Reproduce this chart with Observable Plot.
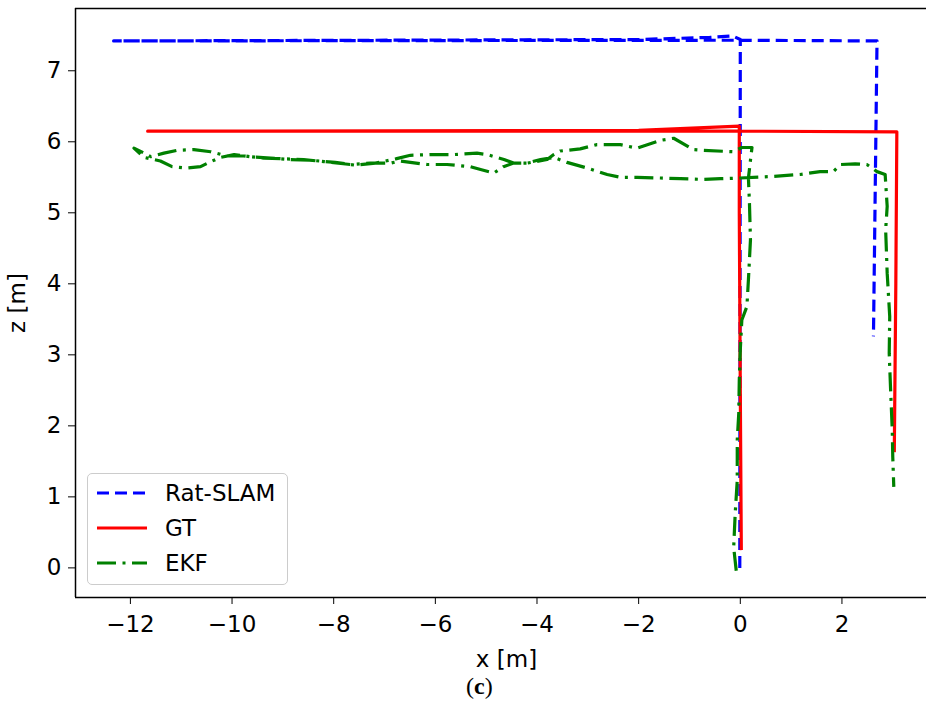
<!DOCTYPE html>
<html><head><meta charset="utf-8">
<script src="https://cdn.jsdelivr.net/npm/d3@7"></script>
<script src="https://cdn.jsdelivr.net/npm/@observablehq/plot@0.6"></script>
<style>
html,body{margin:0;padding:0;background:#fff;overflow:hidden;}
#wrap{position:relative;width:926px;height:704px;overflow:hidden;background:#fff;}
#legend{position:absolute;left:87px;top:473px;width:201px;height:112px;box-sizing:border-box;border:1.5px solid #cccccc;border-radius:5px;background:rgba(255,255,255,0.8);}
#legend svg{position:absolute;left:-1.5px;top:-1.5px;}
#caption{position:absolute;left:466px;width:60px;top:675px;text-align:left;font-family:"Liberation Serif",serif;font-size:24px;line-height:22px;color:#000;white-space:nowrap;}
</style></head>
<body><div id="wrap"><div id="chart"></div><div id="legend"></div><div id="caption">(<b>c</b>)</div></div>
<script>
// ---- data ----
const seriesNames = ["Rat-SLAM", "GT", "EKF"];
const seriesColors = ["#0000ff", "#ff0000", "#008000"];
const seriesDash = ["12,6", "none", "19,6.5,3,6.5"];

const xTicks = [-12, -10, -8, -6, -4, -2, 0, 2];
const yTicks = [0, 1, 2, 3, 4, 5, 6, 7];
const xDomain = [-13.08, 3.88];
const yDomain = [-0.417, 7.877];

const ratX = [-0.01, 0.0, -0.15, -0.6, -2.0, -12.33, -0.2, 0.0, 2.69, 2.62];
const ratZ = [0.0, 7.44, 7.49, 7.47, 7.44, 7.42, 7.43, 7.43, 7.42, 3.26];

const gtX = [0.02, 0.0, -0.02, -0.02, -2.0, -11.66, 0.0, 3.08, 3.06, 3.03];
const gtZ = [0.25, 2.5, 5.0, 6.22, 6.16, 6.15, 6.15, 6.14, 4.0, 1.63];

const ekfX = [-0.08,-0.13,-0.10,-0.06,-0.06,-0.03,-0.02,0.0,0.03,0.13,0.16,0.2,0.18,0.16,0.2,0.23,0.03,-0.14,-0.73,-0.92,-1.31,-1.57,-2.03,-2.36,-2.82,-3.15,-3.54,-3.67,-3.80,-4.19,-4.46,-4.66,-4.85,-5.11,-5.31,-5.77,-6.16,-6.69,-6.88,-7.28,-7.67,-8.19,-8.59,-8.98,-9.37,-9.77,-10.10,-10.42,-10.75,-11.08,-11.34,-11.60,-11.73,-11.93,-11.73,-11.41,-11.18,-10.91,-10.62,-10.42,-10.23,-9.96,-9.64,-9.24,-8.85,-8.46,-7.97,-7.57,-7.18,-6.78,-6.49,-6.10,-5.64,-5.18,-4.98,-4.65,-4.46,-4.20,-3.93,-3.67,-3.41,-3.01,-2.62,-2.36,-2.03,-1.57,-1.18,-0.73,-0.39,0.0,0.59,1.18,1.57,1.83,1.97,2.26,2.49,2.69,2.85,2.89,2.86,2.89,2.94,2.93,2.96,2.99,3.0,3.02];
const ekfZ = [-0.04,0.29,0.77,1.23,1.80,2.18,2.65,3.07,3.49,3.68,4.06,4.62,5.14,5.49,5.74,5.92,5.92,5.86,5.88,5.89,6.05,6.02,5.91,5.96,5.96,5.90,5.87,5.82,5.75,5.70,5.70,5.65,5.56,5.61,5.65,5.68,5.68,5.73,5.70,5.70,5.68,5.72,5.75,5.76,5.77,5.80,5.80,5.86,5.89,5.88,5.84,5.79,5.84,5.91,5.78,5.73,5.65,5.63,5.65,5.72,5.78,5.82,5.79,5.77,5.75,5.74,5.71,5.67,5.70,5.76,5.81,5.82,5.82,5.84,5.82,5.75,5.70,5.70,5.75,5.78,5.71,5.63,5.54,5.50,5.50,5.49,5.48,5.47,5.48,5.49,5.51,5.54,5.58,5.58,5.68,5.69,5.68,5.58,5.54,5.09,4.76,4.15,3.54,3.02,2.46,1.94,1.56,1.14];

// ---- build ----
const toRows = (xs, zs) => xs.map((x, i) => ({x, z: zs[i]}));
const seriesData = [toRows(ratX, ratZ), toRows(gtX, gtZ), toRows(ekfX, ekfZ)];
const fmt = d => (d < 0 ? "\u2212" + Math.abs(d) : String(d));
const font = "DejaVu Sans";

const lineMarks = seriesData.map((rows, i) =>
  Plot.line(rows, {
    x: "x", y: "z",
    stroke: seriesColors[i],
    strokeWidth: 3.2,
    strokeDasharray: seriesDash[i] === "none" ? undefined : seriesDash[i],
    strokeLinejoin: "round",
    strokeLinecap: "butt"
  })
);

const chart = Plot.plot({
  width: 926,
  height: 680,
  marginLeft: 75,
  marginRight: -11,
  marginTop: 8,
  marginBottom: 83,
  style: {fontFamily: font, fontSize: "23px", color: "#000", background: "transparent", overflow: "hidden"},
  x: {domain: xDomain},
  y: {domain: yDomain},
  marks: [
    ...lineMarks,
    Plot.ruleX([xDomain[0]], {stroke: "#000", strokeWidth: 1.5}),
    Plot.ruleY(yDomain, {stroke: "#000", strokeWidth: 1.5}),
    Plot.axisX({ticks: xTicks, tickFormat: fmt, tickSize: 7, tickPadding: 11, label: "x [m]", labelAnchor: "center", labelArrow: "none", labelOffset: 69, fontSize: 23}),
    Plot.axisY({ticks: yTicks, tickFormat: fmt, tickSize: 7, tickPadding: 7, label: "z [m]", labelAnchor: "center", labelArrow: "none", labelOffset: 67, fontSize: 23})
  ]
});
document.getElementById("chart").appendChild(chart);

// ---- legend ----
const lsvg = d3.select("#legend").append("svg").attr("width", 201).attr("height", 112);
seriesNames.forEach((name, i) => {
  const y = 20 + i * 35;
  const ln = lsvg.append("line")
    .attr("x1", 10).attr("x2", 60).attr("y1", y).attr("y2", y)
    .attr("stroke", seriesColors[i]).attr("stroke-width", 3.2);
  if (seriesDash[i] !== "none") ln.attr("stroke-dasharray", seriesDash[i]);
  lsvg.append("text").attr("x", 78).attr("y", y).attr("dy", "0.35em")
    .attr("font-family", font).attr("font-size", 23).attr("fill", "#000").text(name);
});
</script>
</body></html>
